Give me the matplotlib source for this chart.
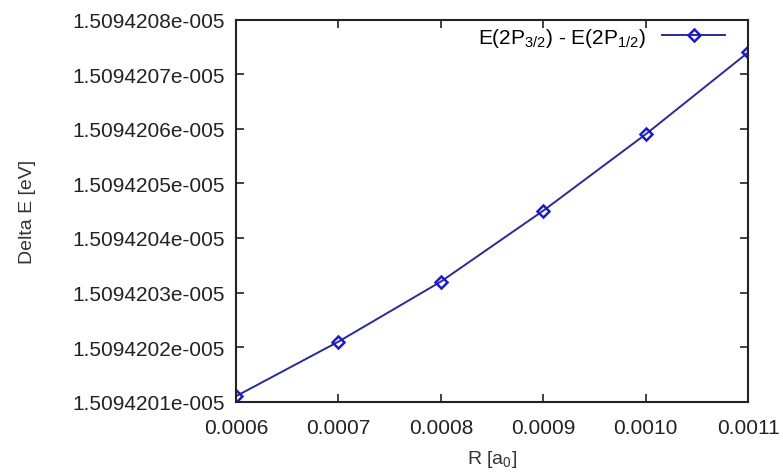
import matplotlib
matplotlib.use("Agg")
import matplotlib.pyplot as plt
from matplotlib.ticker import FuncFormatter, FixedLocator
import numpy as np

plt.rcParams['font.family'] = ['Liberation Sans', 'DejaVu Sans']
plt.rcParams['mathtext.fontset'] = 'custom'
plt.rcParams['mathtext.rm'] = 'Liberation Sans'
plt.rcParams['mathtext.it'] = 'Liberation Sans'

# data
R = [0.0006, 0.0007, 0.0008, 0.0009, 0.0010, 0.0011]
dE = [1.50942011e-05, 1.50942021e-05, 1.50942032e-05,
      1.50942045e-05, 1.50942059e-05, 1.50942074e-05]
xticks = [0.0006, 0.0007, 0.0008, 0.0009, 0.0010, 0.0011]
yticks = [1.5094201e-05, 1.5094202e-05, 1.5094203e-05, 1.5094204e-05,
          1.5094205e-05, 1.5094206e-05, 1.5094207e-05, 1.5094208e-05]

def yfmt(v, pos):
    s = "%.7e" % v
    mant, exp = s.split("e")
    sign = exp[0]
    return "%se%s%03d" % (mant, sign, abs(int(exp)))

fig = plt.figure(figsize=(7.83, 4.77), dpi=100)
ax = fig.add_axes([0.3014, 0.1558, 0.654, 0.8008])

ax.plot(R, dE, color='#2a2a96', lw=1.4, marker='D', ms=6,
        mfc='none', mec='#1c1cc8', mew=1.8,
        label=r'E(2P$_{3/2}$) - E(2P$_{1/2}$)')

ax.set_xlim(0.0006, 0.0011)
ax.set_ylim(yticks[0], yticks[-1])
ax.xaxis.set_major_locator(FixedLocator(xticks))
ax.yaxis.set_major_locator(FixedLocator(yticks))
ax.xaxis.set_major_formatter(FuncFormatter(lambda v, p: "%.4f" % v))
ax.yaxis.set_major_formatter(FuncFormatter(yfmt))

ax.tick_params(direction='in', top=True, right=True, length=6, width=1.2,
               labelsize=15, colors='#222222', pad=8)
ax.tick_params(axis='x', pad=12)
for sp in ax.spines.values():
    sp.set_linewidth(1.5)
    sp.set_color('#222222')

ax.set_xlabel(r'R [a$_0$]', fontsize=14, color='#333333', labelpad=8)
ax.set_ylabel('Delta E [eV]', fontsize=14, color='#333333', labelpad=26)

leg = ax.legend(loc='upper right', bbox_to_anchor=(0.971, 1.006),
                frameon=False, markerfirst=False, fontsize=15,
                handlelength=3.0, borderaxespad=0.0, handletextpad=0.8)

fig.savefig("out.png", dpi=100)
